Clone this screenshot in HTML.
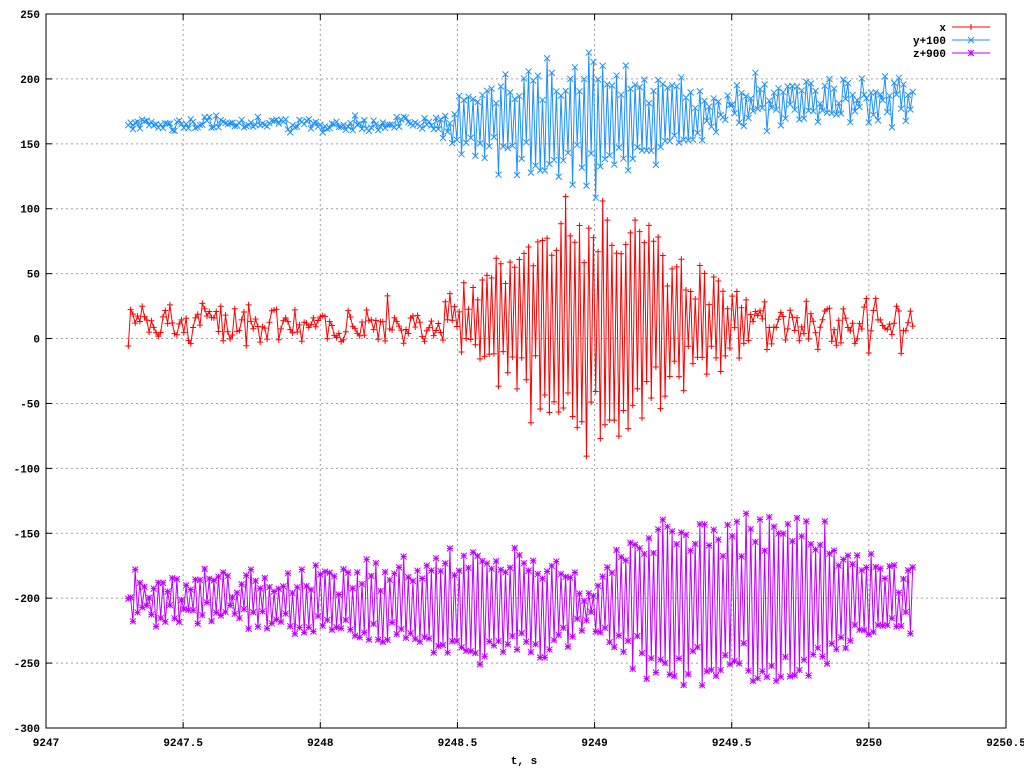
<!DOCTYPE html>
<html><head><meta charset="utf-8">
<style>
html,body{margin:0;padding:0;background:#fff;}
svg{display:block;}
text{font-family:"Liberation Mono",monospace;font-size:11px;font-weight:bold;fill:#000;}
</style></head>
<body>
<svg id="s" width="1024" height="768" xmlns="http://www.w3.org/2000/svg"></svg>
<script>
const S=document.getElementById('s');
const X0=46,X1=1006,Y0=728,Y1=14;
const tx=t=>X0+(t-9247)/3.5*(X1-X0);
const ty=v=>Y0-(v+300)/550*(Y0-Y1);
let h='';
for(let i=0;i<=7;i++){const x=tx(9247+i*0.5);
 if(i>0&&i<7)h+=`<line x1="${x}" y1="${Y1}" x2="${x}" y2="${Y0}" stroke="#a0a0a0" stroke-dasharray="2,3" stroke-width="1"/>`;
 h+=`<line x1="${x}" y1="${Y0}" x2="${x}" y2="${Y0-6}" stroke="#000"/><line x1="${x}" y1="${Y1}" x2="${x}" y2="${Y1+6}" stroke="#000"/>`;
 h+=`<text x="${x}" y="${Y0+18}" text-anchor="middle">${(9247+i*0.5)}</text>`;}
for(let v=-300;v<=250;v+=50){const y=ty(v);
 if(v>-300&&v<250)h+=`<line x1="${X0}" y1="${y}" x2="${X1}" y2="${y}" stroke="#a0a0a0" stroke-dasharray="2,3" stroke-width="1"/>`;
 h+=`<line x1="${X0}" y1="${y}" x2="${X0+6}" y2="${y}" stroke="#000"/><line x1="${X1}" y1="${y}" x2="${X1-6}" y2="${y}" stroke="#000"/>`;
 h+=`<text x="40" y="${y+4}" text-anchor="end">${v}</text>`;}
h+=`<text x="524" y="764" text-anchor="middle">t, s</text>`;
let seed=777;function r(){seed|=0;seed=seed+0x6D2B79F5|0;let t=Math.imul(seed^seed>>>15,1|seed);t=t+Math.imul(t^t>>>7,61|t)^t;return((t^t>>>14)>>>0)/4294967296;}
function g(){return (r()+r()+r()-1.5)*1.4;}
function ip(p,t){if(t<=p[0][0])return p[0][1];for(let i=1;i<p.length;i++)if(t<=p[i][0]){const a=p[i-1],b=p[i];return a[1]+(b[1]-a[1])*(t-a[0])/(b[0]-a[0]);}return p[p.length-1][1];}
const xA=[[9247.3,0],[9248.4,0],[9248.5,20],[9248.7,55],[9248.95,100],[9249.05,95],[9249.3,55],[9249.5,30],[9249.6,5],[9250.2,5]];
const xN=[[9247.3,11],[9248.4,11],[9248.5,10],[9249.6,10],[9249.7,14],[9250.2,14]];
const yC=[[9247.3,165],[9249.1,165],[9249.4,172],[9249.6,183],[9250.2,185]];
const yA=[[9247.3,0],[9248.4,0],[9248.5,20],[9248.8,42],[9248.98,52],[9249.25,32],[9249.5,10],[9250.2,10]];
const yN=[[9247.3,4],[9248.4,4],[9248.5,9],[9249.5,7],[9249.6,9],[9250.2,9]];
const zC=[[9247.3,-200],[9248.6,-205],[9249,-205],[9249.2,-200],[9250.2,-200]];
const zA=[[9247.3,10],[9247.8,20],[9248.3,30],[9248.6,42],[9248.85,35],[9248.98,10],[9249.1,50],[9249.3,65],[9249.5,60],[9249.75,70],[9249.9,40],[9250.16,20]];
const N=340,t0=9247.3,t1=9250.16;
const xs=[],ys=[],zs=[];
for(let i=0;i<N;i++){const t=t0+(t1-t0)*i/(N-1);const s=(i%2?1:-1);
 xs.push([t,12+s*ip(xA,t)*(0.5+0.5*r())+g()*ip(xN,t)]);
 ys.push([t,ip(yC,t)+s*ip(yA,t)*(0.5+0.5*r())+g()*ip(yN,t)]);
 zs.push([t,ip(zC,t)+s*ip(zA,t)*(0.6+0.4*r())+g()*7]);}
function series(d,col,mk){
 h+=`<path d="M${d.map(q=>tx(q[0]).toFixed(1)+','+ty(q[1]).toFixed(1)).join(' L')}" fill="none" stroke="${col}" stroke-width="1"/>`;
 let m='';d.forEach(q=>{m+=mk(tx(q[0]),ty(q[1]));});
 h+=`<path d="${m}" fill="none" stroke="${col}" stroke-width="1"/>`;}
const plus=(x,y)=>`M${x-3},${y}h6M${x},${y-3}v6`;
const cross=(x,y)=>`M${x-3},${y-3}l6,6M${x-3},${y+3}l6,-6`;
const star=(x,y)=>plus(x,y)+cross(x,y);
series(zs,'#c000ff',star);
series(xs,'#ff0000',plus);
series(ys,'#1e90ff',cross);
const L=[['x','#ff0000',plus],['y+100','#1e90ff',cross],['z+900','#c000ff',star]];
L.forEach((l,i)=>{const y=27+i*13;h+=`<text x="946" y="${y+4}" text-anchor="end">${l[0]}</text><line x1="952" y1="${y}" x2="990" y2="${y}" stroke="${l[1]}"/><path d="${l[2](971,y)}" stroke="${l[1]}" fill="none"/>`;});
h+=`<rect x="${X0}" y="${Y1}" width="${X1-X0}" height="${Y0-Y1}" fill="none" stroke="#000"/>`;
S.innerHTML=h;
</script>
</body></html>
